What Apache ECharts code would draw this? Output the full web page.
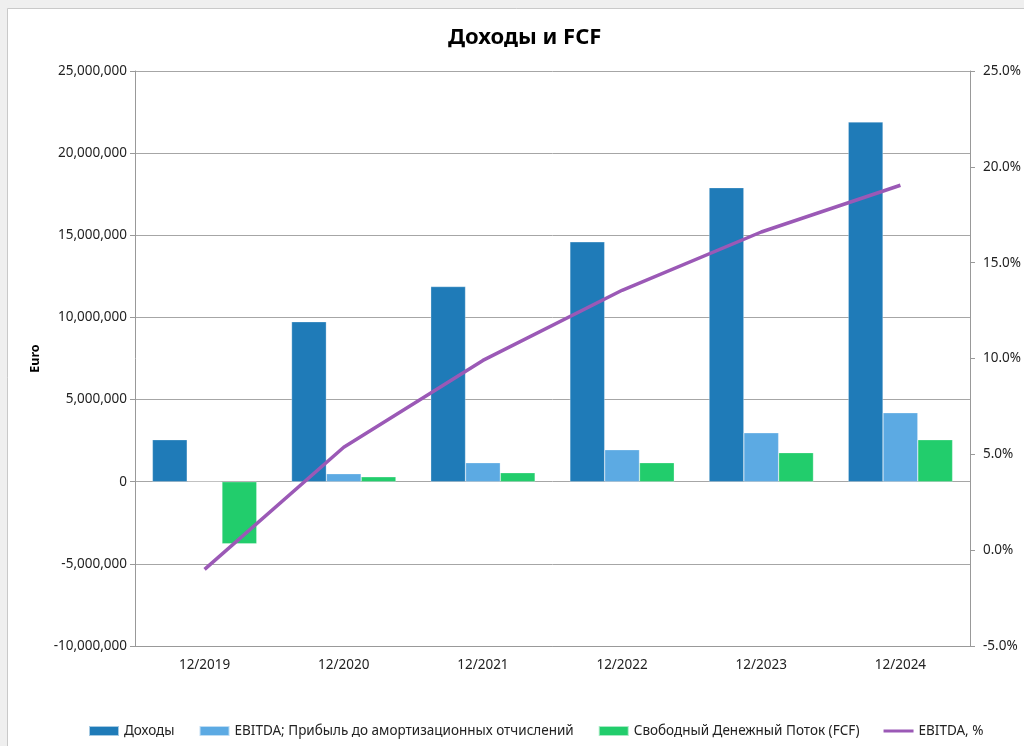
<!DOCTYPE html>
<html>
<head>
<meta charset="utf-8">
<script src="https://cdn.jsdelivr.net/npm/echarts@6/dist/echarts.min.js"></script>
<style>
html,body{margin:0;padding:0;background:#efefef;}
#c{width:1024px;height:746px;}
</style>
</head>
<body>
<div id="c"></div>
<script>
const categories = ['12/2019','12/2020','12/2021','12/2022','12/2023','12/2024'];
const revenue = [2560000, 9740000, 11880000, 14600000, 17900000, 21900000];
const ebitda = [-26000, 490000, 1160000, 1950000, 2980000, 4200000];
const fcf = [-3780000, 300000, 550000, 1160000, 1770000, 2560000];
const ebitdaPct = [-1.0, 5.37, 9.9, 13.56, 16.6, 19.04];
const seriesNames = ['Доходы','EBITDA; Прибыль до амортизационных отчислений','Свободный Денежный Поток (FCF)','EBITDA, %'];

const FONT = 'Noto Sans';
const chart = echarts.init(document.getElementById('c'));
chart.setOption({
  backgroundColor: '#efefef',
  animation: false,
  graphic: [{
    type: 'rect', z: -10, silent: true,
    shape: {x: 7.5, y: 8.5, width: 1100, height: 800},
    style: {fill: '#ffffff', stroke: '#c9c9c9', lineWidth: 1}
  }],
  title: {
    text: 'Доходы и FCF', left: 443, top: 22,
    textStyle: {fontFamily: FONT, fontSize: 22, fontWeight: 'bold', color: '#000'}
  },
  legend: {
    left: 88, top: 724, padding: 0, itemWidth: 30, itemHeight: 10, itemGap: 24,
    textStyle: {fontFamily: FONT, fontSize: 13.5, color: '#222'},
    data: [
      {name: seriesNames[0], icon: 'rect'},
      {name: seriesNames[1], icon: 'rect'},
      {name: seriesNames[2], icon: 'rect'},
      {name: seriesNames[3], icon: 'path://M0,0 L30,0 L30,3 L0,3 Z'}
    ]
  },
  grid: {left: 135, right: 53, top: 71, bottom: 100},
  xAxis: {
    type: 'category', data: categories,
    axisLine: {onZero: false, lineStyle: {color: '#999', width: 1}},
    axisTick: {show: false},
    axisLabel: {fontFamily: FONT, fontSize: 13.5, color: '#222', margin: 12}
  },
  yAxis: [{
    type: 'value', min: -10000000, max: 25000000, interval: 5000000,
    name: 'Euro', nameLocation: 'middle', nameGap: 93, nameRotate: 90,
    nameTextStyle: {fontFamily: FONT, fontSize: 12.5, fontWeight: 'bold', color: '#000'},
    axisLine: {show: true, lineStyle: {color: '#999'}},
    axisTick: {show: true, length: 5, lineStyle: {color: '#999'}},
    axisLabel: {fontFamily: FONT, fontSize: 13.5, color: '#222', margin: 8,
      formatter: v => v.toLocaleString('en-US')},
    splitLine: {lineStyle: {color: '#a6a6a6', width: 1}}
  }, {
    type: 'value', min: -5, max: 25, interval: 5,
    axisLine: {show: true, lineStyle: {color: '#999'}},
    axisTick: {show: true, length: 5, lineStyle: {color: '#999'}},
    axisLabel: {fontFamily: FONT, fontSize: 13.5, color: '#222', margin: 13,
      formatter: v => v.toFixed(1) + '%'},
    splitLine: {show: false}
  }],
  series: [
    {name: seriesNames[0], type: 'bar', data: revenue, barGap: '0%', barCategoryGap: '25%',
     itemStyle: {color: '#1f7bb8', borderColor: 'rgba(255,255,255,0.6)', borderWidth: 0.5}},
    {name: seriesNames[1], type: 'bar', data: ebitda,
     itemStyle: {color: '#5caae3', borderColor: 'rgba(255,255,255,0.6)', borderWidth: 0.5}},
    {name: seriesNames[2], type: 'bar', data: fcf,
     itemStyle: {color: '#22cd6c', borderColor: 'rgba(255,255,255,0.6)', borderWidth: 0.5}},
    {name: seriesNames[3], type: 'line', yAxisIndex: 1, data: ebitdaPct,
     symbol: 'none', lineStyle: {color: '#9b59b6', width: 3.5}, itemStyle: {color: '#9b59b6'}, z: 5}
  ]
});
</script>
</body>
</html>
